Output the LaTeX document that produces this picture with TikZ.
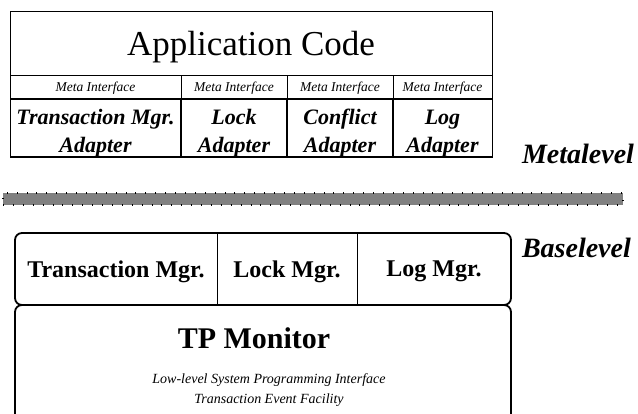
\documentclass[tikz,border=0pt]{standalone}
\usepackage{fontspec}
\setmainfont{Liberation Serif}
\usetikzlibrary{positioning}
\begin{document}
\begin{tikzpicture}[x=1pt, y=-1pt, inner sep=0pt, outer sep=0pt,
  cell/.style = {draw, line width=0.8pt, text depth=0pt},
  meta/.style = {cell, minimum height=24pt, font=\fontsize{13.5}{15}\selectfont\itshape},
  adapter/.style = {cell, minimum height=58pt, align=center, text height=48pt, font=\fontsize{22}{28}\selectfont\bfseries\itshape},
  mgr/.style = {minimum height=72pt, text depth=0pt, font=\fontsize{24}{28}\selectfont\bfseries},
  level/.style = {anchor=base west, font=\fontsize{28}{30}\selectfont\bfseries\itshape},
  sub/.style = {anchor=base, font=\fontsize{14}{16}\selectfont\itshape},
  rbox/.style = {draw, line width=1.8pt, rounded corners=7pt}]
\useasboundingbox (0,0) rectangle (638,413);

% metalevel
\node[cell, minimum width=482pt, minimum height=64pt, anchor=north west, font=\fontsize{35}{40}\selectfont] (app) at (10,11) {Application Code};
\node[meta, minimum width=171pt, below right=0pt and 0pt of app.south west] (mi1) {Meta Interface};
\node[meta, minimum width=106pt, right=0pt of mi1] (mi2) {Meta Interface};
\node[meta, minimum width=106pt, right=0pt of mi2] (mi3) {Meta Interface};
\node[meta, minimum width=99pt, right=0pt of mi3] (mi4) {Meta Interface};
\node[adapter, minimum width=171pt, below=0pt of mi1] (ad1) {Transaction Mgr.\\Adapter};
\node[adapter, minimum width=106pt, below=0pt of mi2] (ad2) {Lock\\Adapter};
\node[adapter, minimum width=106pt, below=0pt of mi3] (ad3) {Conflict\\Adapter};
\node[adapter, minimum width=99pt, below=0pt of mi4] (ad4) {Log\\Adapter};

\draw[line width=2pt] (mi1.south west) -- (mi4.south east);
\draw[line width=1.4pt] (ad1.south west) -- (ad4.south east);
\draw[line width=1.6pt] (ad1.north east) -- (ad1.south east);
\draw[line width=1.6pt] (ad2.north east) -- (ad2.south east);
\draw[line width=1.6pt] (ad3.north east) -- (ad3.south east);

\node[level] (meta) at (522,163) {Metalevel};

% border between the levels
\node[draw, fill=gray, dash pattern=on 0.9pt off 9pt, line width=1.1pt, minimum width=620pt, minimum height=12pt, anchor=north west] (border) at (3,193) {};

% baselevel
\node[level] (base) at (522,257) {Baselevel};

\node[mgr, minimum width=202pt, anchor=north west] (tm) at (15,233) {Transaction Mgr.};
\node[mgr, minimum width=140pt, right=0pt of tm] (lm) {Lock Mgr.};
\node[mgr, minimum width=154pt, right=0pt of lm] (logm) {Log Mgr.};
\draw[rbox] (tm.north west) rectangle (logm.south east);
\draw[line width=0.8pt] (tm.north east) -- (tm.south east);
\draw[line width=0.8pt] (lm.north east) -- (lm.south east);

\node[rbox, minimum width=496pt, minimum height=120pt, anchor=north west] (mon) at (15,305) {};
\node[anchor=base, font=\fontsize{30}{34}\selectfont\bfseries] (tp) at (254,348) {TP Monitor};
\node[sub] (api) at (269,383) {Low-level System Programming Interface};
\node[sub] (tef) at (269,403) {Transaction Event Facility};
\end{tikzpicture}
\end{document}
